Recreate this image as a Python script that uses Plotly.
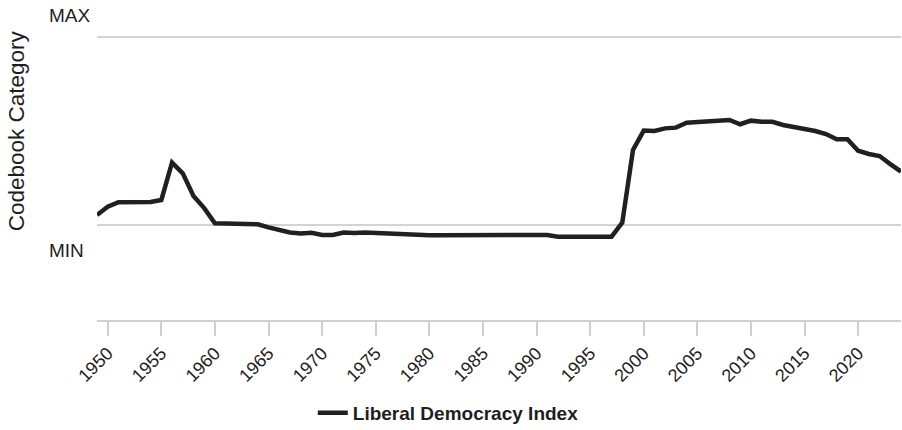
import plotly.graph_objects as go

years = list(range(1949, 2025))
ldi = [0.053, 0.097, 0.121, 0.122, 0.122, 0.122, 0.133, 0.332, 0.275, 0.154,
       0.090, 0.009, 0.008, 0.007, 0.005, 0.004, -0.013, -0.029, -0.040, -0.045,
       -0.041, -0.053, -0.053, -0.040, -0.043, -0.040, -0.043, -0.048, -0.048, -0.053,
       -0.055, -0.055, -0.055, -0.055, -0.055, -0.055, -0.055, -0.055, -0.059, -0.059,
       -0.059, -0.056, -0.053, -0.062, -0.062, -0.062, -0.062, -0.064, -0.062, 0.013,
       0.399, 0.502, 0.500, 0.514, 0.518, 0.544, 0.548, 0.551, 0.553, 0.559,
       0.536, 0.555, 0.549, 0.549, 0.532, 0.523, 0.514, 0.500, 0.484, 0.456,
       0.456, 0.395, 0.378, 0.367, 0.324, 0.284]

tick_years = list(range(1950, 2025, 5))
tick_labels = [str(y) for y in tick_years]
y_levels = [0, 1]
y_level_labels = ["MIN", "MAX"]

FONT = "Liberation Sans, Arial, sans-serif"
TXT = "#1e1e1e"

fig = go.Figure()
fig.add_trace(go.Scatter(
    x=years, y=ldi, mode="lines", name="Liberal Democracy Index",
    line=dict(color="#231f20", width=4.5),
))

fig.update_layout(
    width=902, height=430,
    margin=dict(l=97, r=1, t=10, b=110),
    plot_bgcolor="white", paper_bgcolor="white",
    font=dict(family=FONT, color=TXT),
    showlegend=True,
    legend=dict(
        orientation="h", xref="container", yref="container",
        x=0.497, xanchor="center", y=0.04, yanchor="middle",
        font=dict(family=FONT, size=19, color=TXT, weight=700),
    ),
    xaxis=dict(
        range=[1949, 2024], tickvals=tick_years, ticktext=tick_labels,
        tickangle=-45, tickfont=dict(size=18, color=TXT),
        ticks="outside", ticklen=14, tickwidth=1.5, tickcolor="#d0d0d0",
        showline=True, linecolor="#d0d0d0", linewidth=1.5,
        showgrid=False, zeroline=False,
    ),
    yaxis=dict(
        range=[-0.5053, 1.1436], tickvals=y_levels, showticklabels=False,
        showgrid=True, gridcolor="#d3d3d3", gridwidth=1.5,
        zeroline=False, showline=False, ticks="",
    ),
)

# level labels placed above/below the gridlines
fig.add_annotation(x=-0.0617, xref="paper", y=1.112, yref="y", text=y_level_labels[1],
                   showarrow=False, xanchor="left", yanchor="middle",
                   font=dict(size=19, color=TXT, family=FONT))
fig.add_annotation(x=-0.0617, xref="paper", y=-0.133, yref="y", text=y_level_labels[0],
                   showarrow=False, xanchor="left", yanchor="middle",
                   font=dict(size=19, color=TXT, family=FONT))
fig.add_annotation(x=-0.1003, xref="paper", y=0.5, yref="y", text="Codebook Category",
                   showarrow=False, textangle=-90, xanchor="center", yanchor="middle",
                   font=dict(size=22.5, color=TXT, family=FONT))

fig.write_html("out.html", config={"displayModeBar": False},
               post_script="document.body.style.margin='0';document.body.style.overflow='hidden';")
